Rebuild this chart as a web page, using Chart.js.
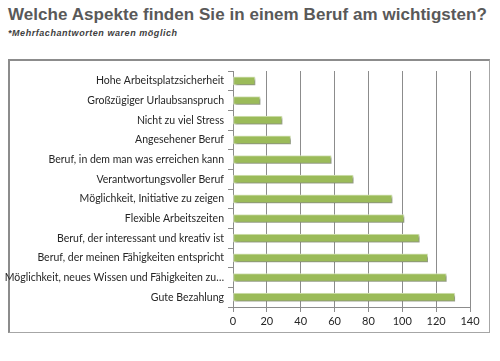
<!DOCTYPE html>
<html><head><meta charset="utf-8">
<script src="https://cdn.jsdelivr.net/npm/chart.js@4/dist/chart.umd.min.js"></script>
<style>
html,body{margin:0;padding:0;background:#fff;}
body{width:500px;height:361px;position:relative;overflow:hidden;}
#title{position:absolute;left:8px;top:5px;font:bold 17px "Liberation Sans",Arial,sans-serif;color:#595959;white-space:nowrap;letter-spacing:0.05px;}
#sub{position:absolute;left:8px;top:28px;font:italic bold 9px "Liberation Sans",Arial,sans-serif;color:#404040;white-space:nowrap;letter-spacing:0.55px;}
#frame{position:absolute;left:8px;top:59px;width:482px;height:274px;border:1px solid #a6a6a6;border-left:2px solid #8c8c8c;border-top:2px solid #8c8c8c;box-sizing:border-box;}
#c{position:absolute;left:0;top:0;}
</style></head>
<body>
<div id="title">Welche Aspekte finden Sie in einem Beruf am wichtigsten?</div>
<div id="sub">*Mehrfachantworten waren möglich</div>
<div id="frame"></div>
<canvas id="c" width="500" height="361"></canvas>
<script>
const categories = [
  "Hohe Arbeitsplatzsicherheit",
  "Großzügiger Urlaubsanspruch",
  "Nicht zu viel Stress",
  "Angesehener Beruf",
  "Beruf, in dem man was erreichen kann",
  "Verantwortungsvoller Beruf",
  "Möglichkeit, Initiative zu zeigen",
  "Flexible Arbeitszeiten",
  "Beruf, der interessant und kreativ ist",
  "Beruf, der meinen Fähigkeiten entspricht",
  "Möglichkeit, neues Wissen und Fähigkeiten zu…",
  "Gute Bezahlung"
];
const values = [13, 16, 29, 34, 58, 71, 94, 101, 110, 115, 126, 131];
const xMin = 0, xMax = 140, xStep = 20;

const shadowPlugin = {
  id: 'barShadow',
  beforeDatasetsDraw(chart) {
    const ctx = chart.ctx;
    ctx.save();
    ctx.shadowColor = 'rgba(0,0,0,0.35)';
    ctx.shadowOffsetX = 2;
    ctx.shadowOffsetY = 2;
    ctx.shadowBlur = 2;
  },
  afterDatasetsDraw(chart) { chart.ctx.restore(); }
};

new Chart(document.getElementById('c'), {
  type: 'bar',
  data: {
    labels: categories,
    datasets: [{
      data: values,
      backgroundColor: '#9bbb59',
      borderColor: '#d7e4bd',
      borderWidth: 1,
      borderSkipped: false,
      barThickness: 8
    }]
  },
  plugins: [shadowPlugin],
  options: {
    indexAxis: 'y',
    responsive: false,
    animation: false,
    layout: { padding: { left: 0, top: 71, right: 30, bottom: 26 } },
    plugins: { legend: { display: false }, tooltip: { enabled: false } },
    scales: {
      y: {
        offset: true,
        grid: { offset: true, drawOnChartArea: false, drawTicks: true, tickLength: 5, color: '#8c8c8c' },
        border: { display: true, color: '#8c8c8c', width: 1 },
        ticks: { color: '#262626', font: { family: 'Lato, "Open Sans", sans-serif', size: 10.5 }, padding: 4, autoSkip: false },
        afterFit(s) { s.width = 233; }
      },
      x: {
        min: xMin, max: xMax,
        grid: { drawOnChartArea: true, drawTicks: true, tickLength: 5, color: '#8c8c8c' },
        border: { display: true, color: '#8c8c8c' },
        ticks: { stepSize: xStep, color: '#262626', font: { family: 'Lato, "Open Sans", sans-serif', size: 11 }, padding: 3 },
        afterFit(s) { s.height = 28; }
      }
    }
  }
});
</script>
</body></html>
